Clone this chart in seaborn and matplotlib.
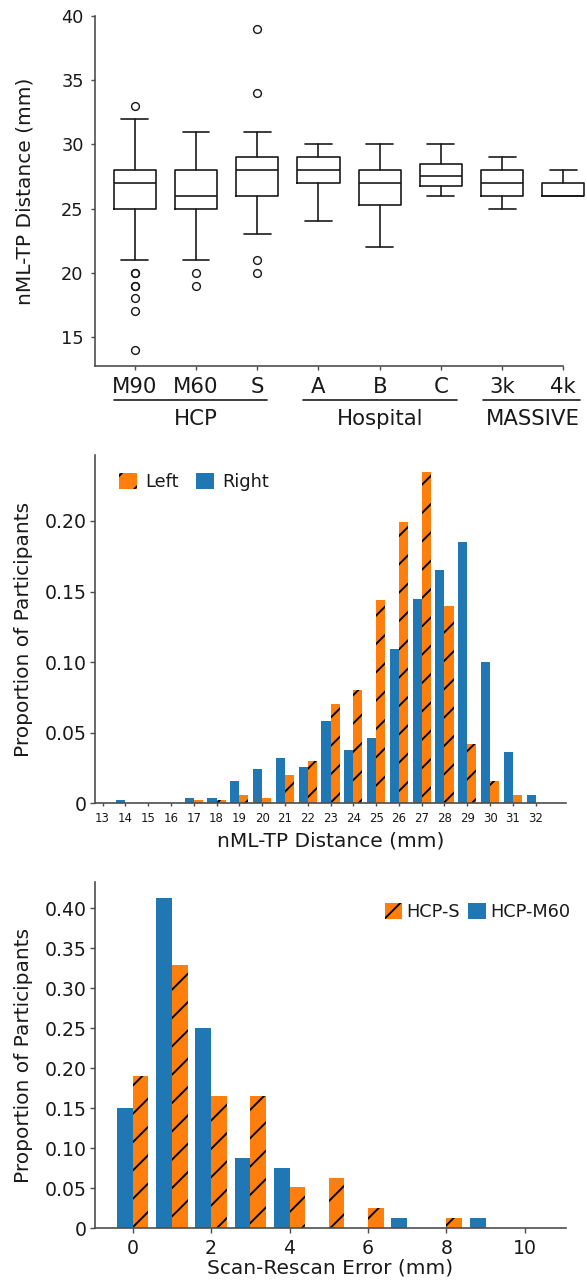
import matplotlib
matplotlib.use("Agg")
import matplotlib.pyplot as plt
from matplotlib.ticker import FuncFormatter, MultipleLocator
import pandas as pd
import seaborn as sns

# ---- top: nML-TP distance per dataset (box statistics)
groups = ["M90", "M60", "S", "A", "B", "C", "3k", "4k"]
whislo = [21, 21, 23, 24, 22, 26, 25, 26]
q1 = [25, 25, 26, 27, 25.25, 26.75, 26, 26]
med = [27, 26, 28, 28, 27, 27.5, 27, 26]
q3 = [28, 28, 29, 29, 28, 28.5, 28, 27]
whishi = [32, 31, 31, 30, 30, 30, 29, 28]
fliers = [[33, 20, 20, 19, 19, 18, 17, 14], [20, 19], [39, 34, 21, 20], [], [], [], [], []]
super_groups = ["HCP", "Hospital", "MASSIVE"]
super_members = [[0, 1, 2], [3, 4, 5], [6, 7]]

# ---- middle: left / right hemisphere distance histogram
distance = list(range(13, 33))
left = [0, 0, 0, 0, 0.002, 0.002, 0.006, 0.004, 0.020, 0.030,
        0.070, 0.080, 0.144, 0.199, 0.235, 0.140, 0.042, 0.016, 0.006, 0]
right = [0, 0.002, 0, 0, 0.004, 0.004, 0.016, 0.024, 0.032, 0.026,
         0.058, 0.038, 0.046, 0.109, 0.145, 0.165, 0.185, 0.100, 0.036, 0.006]

# ---- bottom: scan-rescan error
error = list(range(0, 11))
hcp_s = [0.19, 0.329, 0.165, 0.165, 0.051, 0.063, 0.025, 0, 0.013, 0, 0]
hcp_m60 = [0.15, 0.4125, 0.25, 0.0875, 0.075, 0, 0, 0.0125, 0, 0.0125, 0]

BLUE = "#1f77b4"
ORANGE = "#ff7f0e"
DPI = 170
W, H = 587, 1286

sns.set_style("ticks")
plt.rcParams.update({
    "font.family": ["DejaVu Sans"],
    "axes.linewidth": 0.7,
    "axes.edgecolor": "0.3",
    "xtick.color": "0.3",
    "ytick.color": "0.3",
    "xtick.labelcolor": "0.1",
    "ytick.labelcolor": "0.1",
    "text.color": "0.1",
    "axes.labelcolor": "0.1",
    "xtick.major.width": 0.6,
    "ytick.major.width": 0.6,
    "hatch.linewidth": 0.8,
    "hatch.color": "black",
})

fig = plt.figure(figsize=(W / DPI, H / DPI), dpi=DPI)


def frac(left_px, top_px, right_px, bottom_px):
    return [left_px / W, 1 - bottom_px / H, (right_px - left_px) / W, (bottom_px - top_px) / H]


def zero_fmt(v, pos):
    return "0" if abs(v) < 1e-9 else f"{v:.2f}"


# ================= top: box plots =================
ax1 = fig.add_axes(frac(95, 16, 584.8, 366))
stats = [dict(label=g, whislo=lo, q1=a, med=m, q3=b, whishi=hi, fliers=f)
         for g, lo, a, m, b, hi, f in zip(groups, whislo, q1, med, q3, whishi, fliers)]
line = dict(color="0.1", lw=0.7)
ax1.bxp(stats, positions=range(len(groups)), widths=0.69, capwidths=0.44,
        boxprops=line, whiskerprops=line, capprops=line, medianprops=line,
        flierprops=dict(marker="o", mfc="none", mec="0.1", ms=3.3, mew=0.6))
ax1.set_xlim(-0.65, 7.35)
ax1.set_ylim(12.74, 40)
ax1.set_yticks([15, 20, 25, 30, 35, 40])
sns.despine(ax=ax1)
ax1.spines["bottom"].set_bounds(-0.65, 7)
ax1.tick_params(axis="x", labelsize=9, length=1.7, pad=3.1)
ax1.tick_params(axis="y", labelsize=7.5, length=1.8, pad=3.0)
ax1.set_ylabel("nML-TP Distance (mm)", fontsize=8.5)
ax1.yaxis.set_label_coords(-0.1225, 0.5)

trans = ax1.get_xaxis_transform()
spans = [(-0.343, 2.16), (2.75, 5.26), (5.69, 7.27)]
for name, members, (x0, x1) in zip(super_groups, super_members, spans):
    ax1.plot([x0, x1], [-0.097, -0.097], transform=trans, clip_on=False, color="0.1", lw=0.7)
    xc = sum(members) / len(members)
    ax1.text(xc, -0.123, name, transform=trans, ha="center", va="top", fontsize=9)

# ================= middle: left vs right =================
ax2 = fig.add_axes(frac(95, 455, 566, 803.3))
df_side = pd.DataFrame({
    "distance": distance + distance,
    "proportion": left + right,
    "side": ["Left"] * len(distance) + ["Right"] * len(distance),
})
sns.barplot(data=df_side, x="distance", y="proportion", hue="side",
            hue_order=["Right", "Left"], palette={"Right": BLUE, "Left": ORANGE},
            saturation=1, errorbar=None, width=0.8, linewidth=0, edgecolor="black",
            legend=False, ax=ax2)
for bar in ax2.containers[1]:
    bar.set_hatch("//")
ax2.set_xlim(-0.33, 20.33)
ax2.yaxis.set_major_locator(MultipleLocator(0.05))
ax2.yaxis.set_major_formatter(FuncFormatter(zero_fmt))
sns.despine(ax=ax2)
ax2.tick_params(axis="x", labelsize=5, length=1.4, pad=2.3)
ax2.tick_params(axis="y", labelsize=8, length=2.0, pad=1.7)
ax2.set_xlabel("nML-TP Distance (mm)", fontsize=8.5)
ax2.set_ylabel("Proportion of Participants", fontsize=8.5)
ax2.xaxis.set_label_coords(0.5, -0.0815)
ax2.yaxis.set_label_coords(-0.131, 0.5)
ax2.legend(handles=[ax2.containers[1], ax2.containers[0]], labels=["Left", "Right"],
           loc="upper left", bbox_to_anchor=(0.051, 0.949), ncol=2, frameon=False,
           fontsize=7.5, handlelength=1.0, handleheight=1.0, handletextpad=0.49,
           columnspacing=0.96, borderpad=0, borderaxespad=0)

# ================= bottom: scan-rescan =================
ax3 = fig.add_axes(frac(95, 881.7, 566, 1228.3))
df_err = pd.DataFrame({
    "error": error + error,
    "proportion": hcp_s + hcp_m60,
    "scan": ["HCP-S"] * len(error) + ["HCP-M60"] * len(error),
})
sns.barplot(data=df_err, x="error", y="proportion", hue="scan",
            hue_order=["HCP-M60", "HCP-S"], palette={"HCP-M60": BLUE, "HCP-S": ORANGE},
            native_scale=True, saturation=1, errorbar=None, width=0.8, linewidth=0,
            edgecolor="black", legend=False, ax=ax3)
for bar in ax3.containers[1]:
    bar.set_hatch("//")
ax3.set_xlim(-0.96, 11.05)
ax3.set_xticks([0, 2, 4, 6, 8, 10])
ax3.set_xticklabels(["0", "2", "4", "6", "8", "10"])
ax3.yaxis.set_major_locator(MultipleLocator(0.05))
ax3.yaxis.set_major_formatter(FuncFormatter(zero_fmt))
sns.despine(ax=ax3)
ax3.tick_params(axis="x", labelsize=8, length=2.0, pad=2.4)
ax3.tick_params(axis="y", labelsize=8, length=2.0, pad=1.7)
ax3.set_xlabel("Scan-Rescan Error (mm)", fontsize=8.5)
ax3.set_ylabel("Proportion of Participants", fontsize=8.5)
ax3.xaxis.set_label_coords(0.5, -0.0857)
ax3.yaxis.set_label_coords(-0.131, 0.5)
ax3.legend(handles=[ax3.containers[1], ax3.containers[0]], labels=["HCP-S", "HCP-M60"],
           loc="upper right", bbox_to_anchor=(1.0085, 0.9377), ncol=2, frameon=False,
           fontsize=7.5, handlelength=1.0, handleheight=1.0, handletextpad=0.23,
           columnspacing=0.45, borderpad=0, borderaxespad=0)

fig.savefig("out.png", dpi=DPI)
